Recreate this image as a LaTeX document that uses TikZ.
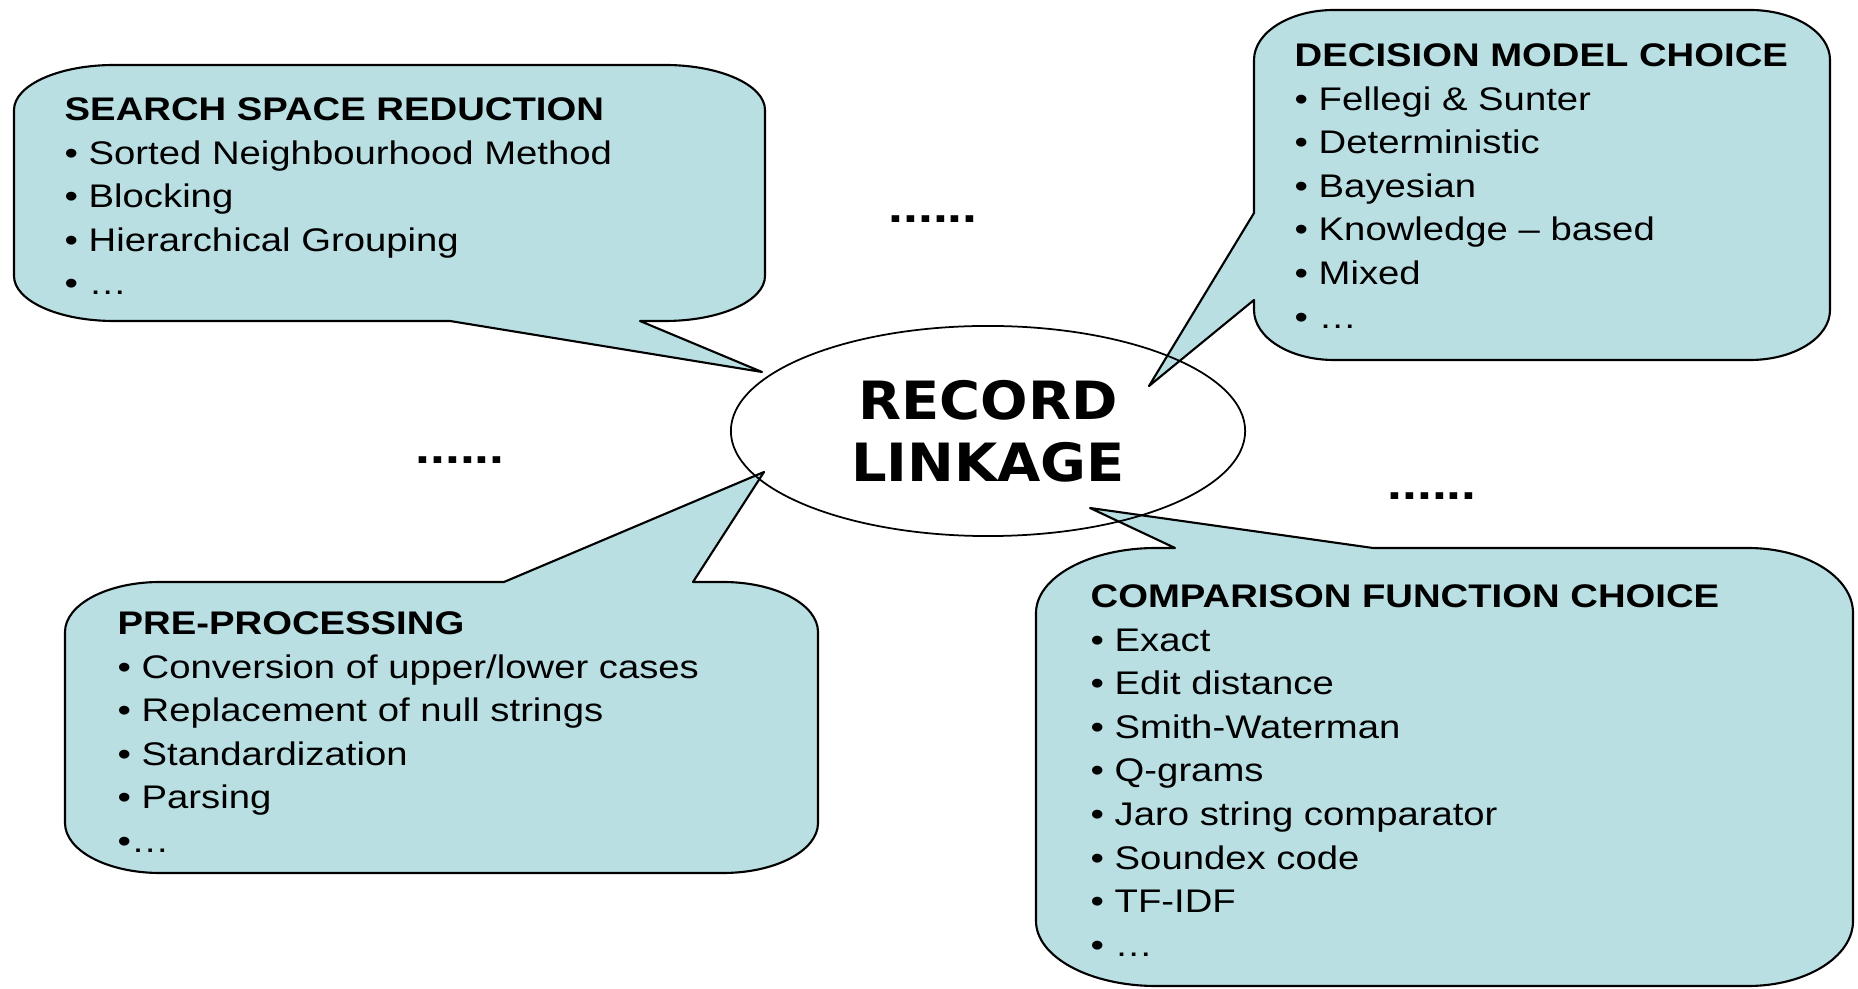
\documentclass[tikz,border=0pt]{standalone}
\usepackage{fontspec}
\setmainfont{Liberation Sans}[FakeStretch=1.17]
\newfontfamily\linkfont{DejaVu Sans}[FakeStretch=1.06]
\usetikzlibrary{shapes.geometric}
\definecolor{bubblefill}{RGB}{185,223,227}

\begin{document}
\begin{tikzpicture}[x=0.01cm, y=-0.01cm,
    bubble/.style={fill=bubblefill, draw=black, line width=0.6pt, line join=round},
    bubbletext/.style={anchor=north west, align=left, inner sep=0pt,
      font=\fontsize{9.3}{12.4}\selectfont},
    etcdots/.style={inner sep=0pt, font=\fontsize{13}{13}\selectfont\bfseries}]

      \useasboundingbox (0,0) rectangle (1858,989);

      % tips of the four tails
      \coordinate (ssrtip) at (762,372);
      \coordinate (dmctip) at (1149,386);
      \coordinate (pretip) at (764,472);
      \coordinate (cfctip) at (1090,508);

      % search space reduction (tail on the bottom edge)
      \path[bubble] (114,65) -- (665,65)
        arc[start angle=270, end angle=360, x radius=100, y radius=45] -- (765,276)
        arc[start angle=0, end angle=90, x radius=100, y radius=45]
        -- (640,321) -- (ssrtip) -- (450,321) -- (114,321)
        arc[start angle=90, end angle=180, x radius=100, y radius=45] -- (14,110)
        arc[start angle=180, end angle=270, x radius=100, y radius=45] -- cycle;

      % decision model (tail on the left edge)
      \path[bubble] (1334,10) -- (1750,10)
        arc[start angle=270, end angle=360, x radius=80, y radius=50] -- (1830,310)
        arc[start angle=0, end angle=90, x radius=80, y radius=50] -- (1334,360)
        arc[start angle=90, end angle=180, x radius=80, y radius=50]
        -- (1254,300) -- (dmctip) -- (1254,213) -- (1254,60)
        arc[start angle=180, end angle=270, x radius=80, y radius=50] -- cycle;

      % pre-processing (tail on the top edge)
      \path[bubble] (160,582) -- (504,582) -- (pretip) -- (693,582) -- (723,582)
        arc[start angle=270, end angle=360, x radius=95, y radius=50] -- (818,823)
        arc[start angle=0, end angle=90, x radius=95, y radius=50] -- (160,873)
        arc[start angle=90, end angle=180, x radius=95, y radius=50] -- (65,632)
        arc[start angle=180, end angle=270, x radius=95, y radius=50] -- cycle;

      % comparison function (tail on the top edge)
      \path[bubble] (1156,548) -- (1175,548) -- (cfctip) -- (1373,548) -- (1748,548)
        arc[start angle=270, end angle=360, x radius=105, y radius=65] -- (1853,921)
        arc[start angle=0, end angle=90, x radius=105, y radius=65] -- (1156,986)
        arc[start angle=90, end angle=180, x radius=120, y radius=65] -- (1036,613)
        arc[start angle=180, end angle=270, x radius=120, y radius=65] -- cycle;

      % centre ellipse, drawn last so its outline runs over the tails
      \node[draw, ellipse, line width=0.5pt, inner sep=0pt,
        minimum width=5.14cm, minimum height=2.1cm, align=center,
        font=\linkfont\bfseries\fontsize{15}{17.6}\selectfont]
        (rl) at (988,431) {RECORD\\LINKAGE};

      % title lines have their cap tops 24 units above the baseline
      \node[bubbletext] (ssr) at (64,97) {\textbf{SEARCH SPACE REDUCTION}\\
        • Sorted Neighbourhood Method\\• Blocking\\• Hierarchical Grouping\\• …};
      \node[bubbletext] (dmc) at (1294,43) {\textbf{DECISION MODEL CHOICE}\\
        • Fellegi \& Sunter\\• Deterministic\\• Bayesian\\• Knowledge – based\\
        • Mixed\\• …};
      \node[bubbletext] (pre) at (117,611) {\textbf{PRE-PROCESSING}\\
        • Conversion of upper/lower cases\\• Replacement of null strings\\
        • Standardization\\• Parsing\\•…};
      \node[bubbletext] (cfc) at (1090,584) {\textbf{COMPARISON FUNCTION CHOICE}\\
        • Exact\\• Edit distance\\• Smith-Waterman\\• Q-grams\\
        • Jaro string comparator\\• Soundex code\\• TF-IDF\\• …};

      \node[etcdots] (dotsa) at (933,219) {......};
      \node[etcdots] (dotsb) at (460,460) {......};
      \node[etcdots] (dotsc) at (1432,496) {......};
    \end{tikzpicture}
\end{document}
